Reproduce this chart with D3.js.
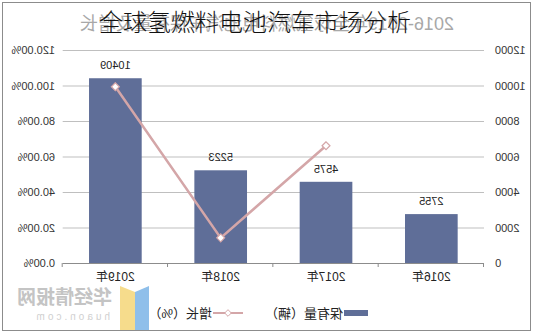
<!DOCTYPE html>
<html><head><meta charset="utf-8">
<script src="https://cdn.jsdelivr.net/npm/d3@7"></script>
<style>body{margin:0;background:#fff}svg{display:block}</style>
</head><body>
<script>
const categories = ["2016年","2017年","2018年","2019年"];
const stock = [2755, 4575, 5223, 10409];
const growth = [null, 66.06, 14.16, 99.29];
const countTicks = [0,2000,4000,6000,8000,10000,12000];
const pctTicks = [0,20,40,60,80,100,120];
const chartTitle = "2016-2019年全球氢燃料电池汽车保有量及增长";
const overlayTitle = "全球氢燃料电池汽车市场分析";
const legendLabels = ["保有量（辆）","增长（%）"];

(function(){
const W = 533, H = 336;
const svg = d3.select("body").append("svg").attr("width", W).attr("height", H);
const font = "'Liberation Sans', Arial, 'Noto Sans CJK SC', sans-serif";

// whole chart is mirrored horizontally
const g = svg.append("g").attr("transform", `translate(${W},0) scale(-1,1)`);

g.append("rect").attr("x",2.5).attr("y",2.5).attr("width",W-5).attr("height",328)
  .attr("fill","#fff").attr("stroke","#8c8c8c");

const pL = 49, pR = 470.3, pT = 50, pB = 263;
const x = d3.scaleBand().domain(categories).range([pL,pR]).paddingInner(0.5).paddingOuter(0.25);
const yC = d3.scaleLinear().domain([0,12000]).range([pB,pT]);
const yP = d3.scaleLinear().domain([0,120]).range([pB,pT]);

// faint original title
g.append("text").attr("x",266).attr("y",30).attr("text-anchor","middle")
  .attr("font-family",font).attr("font-size",18).attr("fill","#a8a8a8").text(chartTitle);

// gridlines
g.append("g").selectAll("line").data(countTicks).join("line")
  .attr("x1",pL).attr("x2",pR).attr("y1",d=>yC(d)+0.5).attr("y2",d=>yC(d)+0.5)
  .attr("stroke",d=>d===0?"#8c8c8c":"#bfbfbf").attr("stroke-width",1);

// left (count) labels
g.append("g").selectAll("text").data(countTicks).join("text")
  .attr("x",38).attr("y",d=>yC(d)+4).attr("text-anchor","end")
  .attr("font-family",font).attr("font-size",11).attr("fill","#333").text(d=>d);
// right (pct) labels
g.append("g").selectAll("text").data(pctTicks).join("text")
  .attr("x",478).attr("y",d=>yP(d)+4).attr("text-anchor","start")
  .attr("font-family",font).attr("font-size",11).attr("fill","#333").text(d=>d.toFixed(2)+"%");

// category ticks
const bounds = categories.map(c=>x(c)-x.step()*x.paddingInner()/2).concat([pR]);
g.append("g").selectAll("line").data(bounds).join("line")
  .attr("x1",d=>d+0.5).attr("x2",d=>d+0.5).attr("y1",pB).attr("y2",pB+4)
  .attr("stroke","#8c8c8c");

// bars
g.append("g").selectAll("rect").data(stock).join("rect")
  .attr("x",(d,i)=>x(categories[i])).attr("width",x.bandwidth())
  .attr("y",d=>yC(d)).attr("height",d=>pB-yC(d)).attr("fill","#5f6e98");
// bar labels
g.append("g").selectAll("text").data(stock).join("text")
  .attr("x",(d,i)=>x(categories[i])+x.bandwidth()/2).attr("y",d=>yC(d)-9)
  .attr("text-anchor","middle").attr("font-family",font).attr("font-size",11).attr("fill","#222")
  .text(d=>d);

// category labels
g.append("g").selectAll("text").data(categories).join("text")
  .attr("x",d=>x(d)+x.bandwidth()/2).attr("y",pB+18).attr("text-anchor","middle")
  .attr("font-family",font).attr("font-size",12).attr("fill","#222").text(d=>d);

// growth line
const pts = growth.map((v,i)=>({v,c:categories[i]})).filter(p=>p.v!==null);
const line = d3.line().x(p=>x(p.c)+x.bandwidth()/2).y(p=>yP(p.v));
g.append("path").datum(pts).attr("d",line).attr("fill","none")
  .attr("stroke","#d4a6a8").attr("stroke-width",2.5);
const diamond = d3.symbol().type(d3.symbolDiamond2).size(40);
g.append("g").selectAll("path").data(pts).join("path")
  .attr("transform",p=>`translate(${x(p.c)+x.bandwidth()/2},${yP(p.v)})`)
  .attr("d",diamond).attr("fill","#fff").attr("stroke","#d4a6a8").attr("stroke-width",1.2);

// legend
const ly = 313;
g.append("rect").attr("x",165).attr("y",ly-3).attr("width",24).attr("height",6).attr("fill","#5f6e98");
g.append("text").attr("x",190).attr("y",ly+5).attr("font-family",font).attr("font-size",13)
  .attr("fill","#222").text(legendLabels[0]);
g.append("line").attr("x1",290).attr("x2",320).attr("y1",ly).attr("y2",ly)
  .attr("stroke","#d4a6a8").attr("stroke-width",2);
g.append("path").attr("transform",`translate(305,${ly})`).attr("d",d3.symbol().type(d3.symbolDiamond2).size(28))
  .attr("fill","#fff").attr("stroke","#d4a6a8");
g.append("text").attr("x",321).attr("y",ly+5).attr("font-family",font).attr("font-size",13)
  .attr("fill","#222").text(legendLabels[1]);

// watermark
g.append("polygon").attr("points","384,286 398,292 398,330 384,330").attr("fill","#8fbfea");
g.append("polygon").attr("points","398,292 413,286 413,330 398,330").attr("fill","#f6dc8c");
g.append("text").attr("x",421).attr("y",304).attr("font-family","'Noto Sans CJK SC'")
  .attr("font-weight","bold").attr("font-size",19).attr("fill","#c4c4c4").text("华经情报网");
g.append("text").attr("x",423).attr("y",320).attr("font-family",font)
  .attr("font-size",10).attr("letter-spacing",3).attr("fill","#d0d0d0").text("huaon.com");

// overlay title (not mirrored)
svg.append("text").attr("x",255).attr("y",31).attr("text-anchor","middle")
  .attr("font-family","'Noto Sans CJK SC', sans-serif").attr("font-weight",300)
  .attr("font-size",24).attr("fill","#111").text(overlayTitle);
})();
</script>
</body></html>
